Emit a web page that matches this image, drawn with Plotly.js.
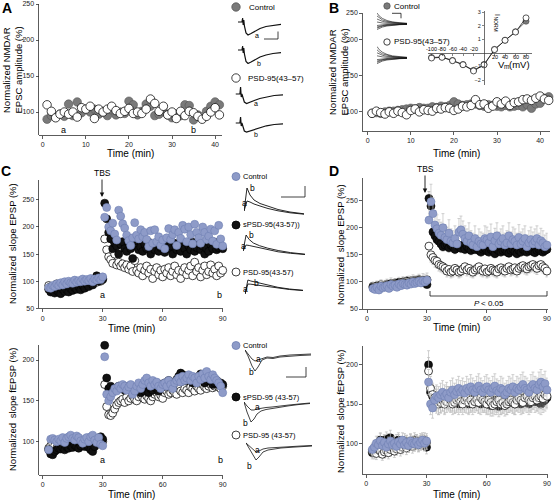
<!DOCTYPE html>
<html><head><meta charset="utf-8">
<script src="https://cdn.plot.ly/plotly-3.0.1.min.js"></script>
<style>html,body{margin:0;padding:0;background:#fff}#chart{width:554px;height:500px}</style>
</head><body><div id="chart"></div>
<script>
// ---------------- DATA ----------------
// Panel A (NMDAR EPSC amplitude, %)
const tA_ctrl = [1,2,3,4,5,6,7,8,9,10,11,12,13,14,15,16,17,18,19,20,21,22,23,24,25,26,27,28,29,30,31,32,33,34,35,36,37,38,39,40,41];
const A_ctrl  = [90,95,93,97,94,111,95,114,99,104,100,104,97,101,95,103,96,100,98,115,110,96,101,111,108,95,97,101,96,92,97,95,110,109,89,96,93,101,108,114,110];
const tA_psd  = [1,2,3,4,5,6,7,8,9,10,11,12,13,14,15,16,17,18,19,20,21,22,23,24,25,26,27,28,29,30,31,32,33,34,35,36,37,38,39,40,41,42];
const A_psd   = [110,101,92,97,100,97,100,93,106,104,108,91,104,100,104,108,102,98,101,105,98,100,98,104,118,112,101,108,96,100,91,101,95,101,99,94,90,94,100,106,96,97];
// Panel B
const tB      = [1,2,3,4,5,6,7,8,9,10,11,12,13,14,15,16,17,18,19,20,21,22,23,24,25,26,27,28,29,30,31,32,33,34,35,36,37,38,39,40,41,42];
const B_ctrl  = [97,98,97,99,100,100,101,102,103,104,103,105,104,104,106,105,107,106,108,113,110,108,109,110,110,108,107,109,108,107,106,108,106,107,108,106,109,104,110,111,118,120];
const B_psd   = [97,100,98,96,99,97,100,98,95,101,103,99,102,101,100,104,103,105,104,101,103,107,106,108,116,109,110,104,107,113,110,114,108,112,113,116,117,115,118,121,117,115];
// IV inset (panel B)
const ivV     = [-100,-80,-60,-40,-20,0,20,40,60,80];
const ivCtrl  = [-0.33,-0.3,-0.55,-0.85,-1.28,-0.85,0.27,0.95,1.58,2.35];
const ivPsd   = [-0.37,-0.32,-0.57,-0.87,-1.33,-0.88,0.25,0.94,1.55,2.6];
const ivTickNeg = [-100,-80,-60,-40,-20];
const ivTickPos = [20,40,60,80];
// Panels C/D time base
const tBase = [3,4,5,6,7,8,9,10,11,12,13,14,15,16,17,18,19,20,21,22,23,24,25,26,27,28,29,30];
const tPost = [31,32,33,34,35,36,37,38,39,40,41,42,43,44,45,46,47,48,49,50,51,52,53,54,55,56,57,58,59,60,61,62,63,64,65,66,67,68,69,70,71,72,73,74,75,76,77,78,79,80,81,82,83,84,85,86,87,88,89,90];
// Panel C top (slope EPSP, single experiments)
const Ct_ctrl_base = [88,87,92,90,95,92,97,93,99,95,100,97,96,102,98,101,99,104,100,103,101,105,99,104,102,106,103,108];
const Ct_ctrl_post = [218,236,200,193,207,187,176,231,220,206,198,185,175,166,180,208,185,178,195,182,190,177,164,193,170,195,173,182,166,176,160,180,197,177,186,195,166,190,179,203,196,173,200,186,169,205,190,180,170,200,190,177,183,196,174,193,168,203,178,165];
const Ct_spsd_base = [85,80,82,78,83,80,77,85,81,84,80,86,83,88,85,90,84,92,87,95,90,98,93,104,110,100,105,103];
const Ct_spsd_post = [244,215,190,178,160,170,165,150,168,173,160,155,170,160,142,165,175,158,163,155,168,160,172,150,165,158,170,155,162,168,153,175,160,165,150,170,158,163,155,168,160,150,165,158,172,155,162,170,158,165,150,160,155,168,160,172,158,162,165,160];
const Ct_psd_base  = [92,90,85,88,95,90,93,86,92,95,90,88,97,92,95,90,98,94,96,99,93,100,97,102,98,104,100,105];
const Ct_psd_post  = [178,158,145,140,133,150,130,135,128,132,125,130,122,128,118,138,120,115,125,110,120,128,115,122,105,118,125,112,120,108,122,115,125,110,118,128,112,120,105,118,125,112,120,128,110,135,118,125,108,120,128,112,118,130,115,122,110,128,115,120];
// Panel D top (mean slope EPSP)
const Dt_ctrl_base = [88,86,90,85,92,89,91,93,88,95,92,94,90,96,93,97,95,94,98,96,100,97,99,101,98,102,100,103];
const Dt_ctrl_post = [214,248,226,205,198,190,186,200,182,178,190,175,172,180,170,192,196,188,180,175,185,172,168,180,165,175,170,168,180,178,172,183,165,176,185,170,175,180,168,172,185,170,178,175,168,182,170,175,180,165,172,178,170,175,180,168,176,172,165,168];
const Dt_spsd_base = [90,88,92,87,90,93,91,95,92,96,94,98,95,99,97,100,98,101,99,102,100,103,101,104,100,103,98,95];
const Dt_spsd_post = [254,240,192,185,178,175,170,165,168,170,163,168,165,160,170,165,162,168,160,165,162,158,165,160,163,158,155,160,162,157,155,160,158,152,160,157,155,158,160,155,153,158,160,156,152,158,155,160,157,155,158,160,156,154,158,160,157,155,158,160];
const Dt_psd_base  = [92,90,93,88,95,92,94,96,91,97,95,98,93,99,97,100,98,102,99,101,100,103,102,104,101,103,100,104];
const Dt_psd_post  = [166,150,145,140,138,132,130,128,125,120,123,118,120,125,122,118,120,124,128,122,125,120,118,122,125,128,122,120,124,118,120,125,122,120,118,124,126,122,120,125,128,122,124,126,120,125,128,130,126,124,128,130,132,128,125,130,132,128,125,120];
// Panel C bottom (slope fEPSP, single experiments)
const Cb_ctrl_base = [90,103,104,102,100,103,101,105,99,104,106,108,104,102,107,105,101,98,103,105,100,106,108,102,99,105,97,95];
const Cb_ctrl_post = [204,158,150,155,160,165,162,168,165,170,168,163,167,170,158,162,168,172,165,170,175,178,172,168,175,170,173,168,165,170,172,168,175,170,165,172,175,178,173,180,175,178,182,175,180,178,172,180,176,183,178,186,180,176,182,178,175,172,168,160];
const Cb_spsd_base = [90,85,84,88,90,92,91,93,90,94,92,95,93,96,94,92,95,97,94,96,93,90,88,94,100,104,106,103];
const Cb_spsd_post = [218,178,165,168,165,163,166,168,165,167,163,166,168,165,160,163,165,162,160,164,162,166,160,165,163,168,165,162,170,167,172,168,175,170,166,172,176,180,184,182,178,175,180,176,172,178,175,180,183,176,172,175,178,174,170,172,175,170,172,170];
const Cb_psd_base  = [92,95,98,95,92,97,95,98,100,96,98,95,97,99,94,96,98,95,99,97,100,96,98,101,97,99,102,100];
const Cb_psd_post  = [170,143,133,132,135,140,145,148,150,152,148,155,150,153,156,152,150,155,158,154,152,156,153,150,155,158,160,155,157,153,160,162,158,160,163,160,158,165,162,160,165,163,160,167,165,162,168,165,163,170,167,165,168,170,166,168,170,167,165,168];
// Panel D bottom (mean slope fEPSP)
const Db_ctrl_base = [92,95,100,98,103,97,101,95,99,103,98,100,96,102,99,104,98,101,97,103,100,99,102,98,101,104,100,103];
const Db_ctrl_post = [178,150,145,155,160,158,162,165,160,163,158,165,168,162,166,170,165,168,164,170,167,172,168,165,170,173,168,165,170,172,168,165,170,173,167,165,170,168,162,165,170,168,172,165,170,168,172,175,170,168,165,172,175,170,168,175,178,172,176,168];
const Db_spsd_base = [88,94,96,100,104,99,102,105,103,107,100,98,102,104,100,98,103,101,99,102,100,104,102,100,103,101,104,95];
const Db_spsd_post = [200,165,160,155,152,150,153,155,152,158,155,153,155,152,153,150,155,157,153,152,150,153,155,158,155,152,150,153,155,152,150,148,152,155,150,147,150,152,155,150,153,155,152,150,155,153,150,152,155,153,150,155,157,153,155,152,150,153,155,158];
const Db_psd_base  = [90,88,87,92,90,86,89,91,88,92,95,90,93,96,92,95,98,94,97,100,96,99,101,98,100,102,99,101];
const Db_psd_post  = [192,170,162,158,155,150,152,155,150,153,158,155,150,152,155,157,153,150,155,158,152,155,150,153,156,152,158,155,153,150,155,152,148,150,153,155,150,152,148,150,153,155,152,150,155,158,155,152,158,160,155,153,158,160,155,158,160,157,162,160];
// Inset waveforms, panel A (NMDAR EPSCs)
const wT      = [0,4,4.6,5.2,5.8,6.4,8,10,13,17,22,28,35,43];
const wA_ctrl_a = [0,0,4,-3,2,-4,-11,-13,-11.5,-9,-6.5,-4.5,-3.2,-2.4];
const wA_ctrl_b = [0,0,4,-3,2,-4,-11.5,-13.5,-12,-9.5,-7,-5,-3.5,-2.6];
const wA_psd_a  = [0,0,7,-3,0,-2,-8,-9.5,-8.5,-6.5,-4.5,-3,-1.5,-0.8];
const wA_psd_b  = [0,0,6,-3,0,-2,-8,-9,-8,-6,-4.3,-2.8,-1.5,-0.8];
// Inset current families, panel B
const famT = [0,2,5,9,14,20,27];
const famCtrl = [
  [11,8,5.5,3.5,2,1.2,0.7],[8,6,4,2.6,1.5,0.9,0.5],[5,3.8,2.6,1.7,1,0.6,0.3],[2,1.5,1,0.7,0.4,0.25,0.1],
  [-1.5,-1.1,-0.8,-0.5,-0.3,-0.2,-0.1],[-3,-2.3,-1.6,-1,-0.6,-0.35,-0.2],[-4,-3,-2.1,-1.4,-0.8,-0.5,-0.3],[-5.5,-4.2,-3,-2,-1.2,-0.7,-0.4]];
const famPsd = [
  [11.5,8.3,5.7,3.6,2.1,1.2,0.7],[8.2,6.1,4.1,2.6,1.5,0.9,0.5],[5.2,3.9,2.7,1.7,1,0.6,0.3],[2.2,1.6,1.1,0.7,0.4,0.25,0.1],
  [-1.6,-1.2,-0.8,-0.5,-0.3,-0.2,-0.1],[-3.1,-2.4,-1.6,-1,-0.6,-0.35,-0.2],[-4.2,-3.1,-2.2,-1.4,-0.8,-0.5,-0.3],[-5.6,-4.3,-3,-2,-1.2,-0.7,-0.4]];
// Inset EPSPs, panel C top
const eT = [0,3,6,10,16,24,34,46,60];
const eC_ctrl_a = [4,14,13,11,9,6.5,4.2,2.2,0.8];
const eC_ctrl_b = [4,27,20,15,11.5,8.5,5.5,3,1.2];
const eC_spsd_a = [4,10,9.5,8.5,7,5,3.2,1.7,0.5];
const eC_spsd_b = [4,20,15.5,12,9.3,6.8,4.5,2.4,0.8];
const eC_psd_a  = [-3,7,6.8,6.3,5.5,4.2,2.8,1.5,0.5];
const eC_psd_b  = [-3,11,10,9,7.5,5.6,3.7,2,0.7];
// Inset fEPSPs, panel C bottom
const fT = [0,3,7,10,13,17,22,28,35,45,55,66];
const fC_ctrl_a = [0,-4,-9,-11,-10,-8,-7,-7.5,-6,-5,-4.5,-4];
const fC_ctrl_b = [0,-6,-16,-21,-17,-10,-8,-8.5,-7,-6,-5.5,-5];
const fC_spsd_a = [0,-4,-8,-8,-7,-6,-5.5,-5,-4,-3,-2,-1];
const fC_spsd_b = [0,-10,-20,-17,-12,-9,-7.5,-6.5,-5,-3.8,-2.5,-1.5];
const fC_psd_a  = [0,-3,-7,-9,-8,-6,-5,-4.5,-4,-3.5,-3,-2.5];
const fC_psd_b  = [0,-5,-12,-17,-14,-9,-7,-6,-5,-4.3,-3.7,-3];

// ---------------- LAYOUT HELPERS ----------------
const W=554, H=500;
const PX = x => x/W, PY = y => 1 - y/H;
const FONT = 'Liberation Sans, Arial, Helvetica, sans-serif';
const BLUE = '#8e9bc8', BLUE_LINE = '#6f7fb2', GREY = '#7a7a7a';
const tCD = tBase.concat(tPost);

const layout = {width:W, height:H, margin:{l:0,r:0,t:0,b:0}, paper_bgcolor:'#fff', plot_bgcolor:'rgba(0,0,0,0)',
  showlegend:false, font:{family:FONT, size:8, color:'#222'}, annotations:[], shapes:[], hovermode:false};
const AX = {showline:true, linecolor:'#333', linewidth:0.8, ticks:'outside', ticklen:3, tickwidth:0.8, tickcolor:'#333',
  showgrid:false, zeroline:false, tickfont:{size:7, color:'#222', family:FONT}, fixedrange:true};
const sfx = id => id===1 ? '' : String(id);

function addMain(id, xd, xr, xt, yd, yr, yt, ytt){
  const s = sfx(id);
  layout['xaxis'+s] = Object.assign({}, AX, {domain:[PX(xd[0]),PX(xd[1])], range:xr, tickvals:xt, anchor:'y'+s});
  const ya = Object.assign({}, AX, {domain:[PY(yd[1]),PY(yd[0])], range:yr, tickvals:yt, anchor:'x'+s});
  if (ytt) ya.ticktext = ytt;
  layout['yaxis'+s] = ya;
}
function addInset(id, xd, xr, yd, yr){
  const s = sfx(id);
  layout['xaxis'+s] = {domain:[PX(xd[0]),PX(xd[1])], range:xr, visible:false, anchor:'y'+s, fixedrange:true};
  layout['yaxis'+s] = {domain:[PY(yd[1]),PY(yd[0])], range:yr, visible:false, anchor:'x'+s, fixedrange:true};
}
const traces = [];
function pts(id, x, y, marker, extra){
  const s = sfx(id);
  traces.push(Object.assign({type:'scatter', mode:'markers', x:x, y:y, xaxis:'x'+s, yaxis:'y'+s, marker:marker, cliponaxis:false, hoverinfo:'skip'}, extra||{}));
}
function wave(id, x, y, w, color){
  const s = sfx(id);
  traces.push({type:'scatter', mode:'lines', x:x, y:y, xaxis:'x'+s, yaxis:'y'+s, line:{color:color||'#111', width:w||1}, cliponaxis:false, hoverinfo:'skip'});
}
function ann(x, y, text, size, opts){
  layout.annotations.push(Object.assign({xref:'paper', yref:'paper', x:PX(x), y:PY(y), text:text, showarrow:false,
    font:{size:size, family:FONT, color:'#000'}, xanchor:'center', yanchor:'middle'}, opts||{}));
}
function circ(cx, cy, r, fill, lc){
  layout.shapes.push({type:'circle', xref:'paper', yref:'paper', x0:PX(cx-r), x1:PX(cx+r), y0:PY(cy+r), y1:PY(cy-r),
    fillcolor:fill, line:{color:lc||'#111', width:0.8}});
}
function seg(x0, y0, x1, y1, w){
  layout.shapes.push({type:'line', xref:'paper', yref:'paper', x0:PX(x0), y0:PY(y0), x1:PX(x1), y1:PY(y1), line:{color:'#111', width:w||1}});
}

// Marker styles
const mGrey = {size:8.5, color:GREY, line:{color:'#555', width:0.6}};
const mOpen = {size:8.5, color:'#fff', line:{color:'#111', width:0.8}};
const mBlue = {size:8, color:BLUE, line:{color:BLUE_LINE, width:0.6}};
const mBlack= {size:8, color:'#111', line:{color:'#000', width:0.6}};
const mOpen8= {size:8, color:'#fff', line:{color:'#111', width:0.8}};

// ---------------- MAIN AXES ----------------
addMain(1, [39.3,222], [-0.8,41.6], [0,10,20,30,40], [4,134.7], [68.5,250], [100,150,200,250]);
addMain(2, [363,550], [-1.1,42.3], [0,10,20,30,40], [13,131], [72.4,236.6], [100,150,200,236.6], ['100','150','200','250']);
addMain(3, [39.3,223.3], [-1.7,90.3], [0,30,60,90], [180,308.3], [50,286.7], [50,100,150,200,250]);
addMain(4, [363,547.7], [-2,90.4], [0,30,60,90], [178,309], [50,291.7], [50,100,150,200,250]);
addMain(5, [39.3,223.3], [-1.7,90.3], [0,30,60,90], [345,475], [59.2,218.4], [100,150,200]);
addMain(6, [363,547.7], [-1.64,90.35], [0,30,60,90], [346,474], [60.8,224], [100,150,200]);

// Panel A
pts(1, tA_ctrl, A_ctrl, mGrey);
pts(1, tA_psd, A_psd, mOpen);
// Panel B
const ebB = {type:'percent', value:3, color:'#444', thickness:0.6, width:0};
pts(2, tB, B_ctrl, mGrey, {error_y:ebB});
pts(2, tB, B_psd, mOpen, {error_y:ebB});
// Panel C top
pts(3, tCD, Ct_psd_base.concat(Ct_psd_post), mOpen8);
pts(3, tCD, Ct_spsd_base.concat(Ct_spsd_post), mBlack);
pts(3, tCD, Ct_ctrl_base.concat(Ct_ctrl_post), mBlue);
// Panel D top (means with error bars)
pts(4, tCD, Dt_psd_base.concat(Dt_psd_post), mOpen8, {error_y:{type:'percent', symmetric:false, value:0, valueminus:9, color:'#b8b8b8', thickness:0.7, width:1.5}});
pts(4, tCD, Dt_spsd_base.concat(Dt_spsd_post), mBlack, {error_y:{type:'percent', value:5, color:'#aaaaaa', thickness:0.7, width:1.5}});
pts(4, tCD, Dt_ctrl_base.concat(Dt_ctrl_post), mBlue, {error_y:{type:'percent', symmetric:false, value:13, valueminus:0, color:'#bdbdbd', thickness:0.7, width:1.5}});
// Panel C bottom
pts(5, tCD, Cb_psd_base.concat(Cb_psd_post), mOpen8);
pts(5, tCD, Cb_spsd_base.concat(Cb_spsd_post), mBlack);
pts(5, tCD, Cb_ctrl_base.concat(Cb_ctrl_post), mBlue);
// Panel D bottom
const ebD = {type:'percent', value:9, color:'#bdbdbd', thickness:0.7, width:1.5};
pts(6, tCD, Db_spsd_base.concat(Db_spsd_post), mBlack, {error_y:ebD});
pts(6, tCD, Db_psd_base.concat(Db_psd_post), mOpen8, {error_y:ebD});
pts(6, tCD, Db_ctrl_base.concat(Db_ctrl_post), mBlue, {error_y:ebD});

// ---------------- INSETS ----------------
// A: EPSC traces
addInset(7, [238,281], [0,43], [17,36], [-14,5]);   wave(7, wT, wA_ctrl_a, 1.2);
addInset(8, [238,281], [0,43], [45,64], [-14,5]);   wave(8, wT, wA_ctrl_b, 1.2);
addInset(9, [235.5,283], [0,43], [86,105], [-11,8]); wave(9, wT, wA_psd_a, 1.2);
addInset(10,[235.5,283], [0,43], [115,134], [-11,8]); wave(10, wT, wA_psd_b, 1.2);
// B: current families
addInset(11, [377,407], [0,27], [12,30], [-6,12]);
famCtrl.forEach(r => wave(11, famT, r, 0.6));
addInset(12, [377,407], [0,27], [46,64], [-6,12]);
famPsd.forEach(r => wave(12, famT, r, 0.6));
// B: IV curve
layout.xaxis13 = {domain:[PX(428),PX(532)], range:[-106.7,91.4], anchor:'free', position:PY(53), showline:true, linecolor:'#333', linewidth:0.7,
  ticks:'outside', ticklen:2, tickwidth:0.6, tickcolor:'#333', tickvals:ivTickNeg.concat(ivTickPos), showticklabels:false,
  showgrid:false, zeroline:false, fixedrange:true};
layout.yaxis13 = {domain:[PY(85),PY(11)], range:[-2.37,3.11], anchor:'free', position:PX(484), showline:true, linecolor:'#333', linewidth:0.7,
  ticks:'outside', ticklen:2, tickwidth:0.6, tickcolor:'#333', tickvals:[-2,-1,1,2,3], tickfont:{size:5.5, family:FONT, color:'#222'},
  showgrid:false, zeroline:false, fixedrange:true};
const ebIV = {type:'constant', value:0.15, color:'#444', thickness:0.6, width:0};
pts(13, ivV, ivCtrl, {size:6, color:GREY, line:{color:'#444', width:0.6}}, {mode:'lines+markers', line:{color:'#444', width:0.8}, error_y:ebIV});
pts(13, ivV, ivPsd, {size:6, color:'#fff', line:{color:'#111', width:0.7}}, {mode:'lines+markers', line:{color:'#111', width:0.8}, error_y:ebIV});
// C top: EPSP traces
addInset(14, [244,308], [0,64], [186,216], [-1,29]); wave(14, eT, eC_ctrl_a, 0.9); wave(14, eT, eC_ctrl_b, 0.9);
addInset(15, [243,305], [0,60], [226,256], [-1,29]); wave(15, eT, eC_spsd_a, 0.9); wave(15, eT, eC_spsd_b, 0.9);
addInset(16, [245,303], [0,60], [265,295], [-4,26]); wave(16, eT, eC_psd_a, 0.9); wave(16, eT, eC_psd_b, 0.9);
// C bottom: fEPSP traces
addInset(17, [245,311], [0,66], [348,374], [-24,2]); wave(17, fT, fC_ctrl_a, 0.8); wave(17, fT, fC_ctrl_b, 0.8);
addInset(18, [244,310], [0,66], [400,426], [-24,2]); wave(18, fT, fC_spsd_a, 0.8); wave(18, fT, fC_spsd_b, 0.8);
addInset(19, [246,312], [0,66], [441,467], [-24,2]); wave(19, fT, fC_psd_a, 0.8); wave(19, fT, fC_psd_b, 0.8);

// ---------------- TEXT ----------------
// Panel letters
const LET = {font:{size:14, family:FONT, color:'#000', weight:'bold'}};
ann(7, 8, 'A', 14, LET); ann(334, 8, 'B', 14, LET); ann(6, 171, 'C', 14, LET); ann(334, 171, 'D', 14, LET);
// Axis titles
ann(130, 153.5, 'Time (min)', 10); ann(456, 153, 'Time (min)', 10);
ann(131, 328, 'Time (min)', 10); ann(456, 327.5, 'Time (min)', 10);
ann(131, 494, 'Time (min)', 10); ann(456, 494, 'Time (min)', 10);
ann(6, 70, 'Normalized NMDAR', 9.5, {textangle:-90});
ann(17.5, 70, 'EPSC amplitude (%)', 9.5, {textangle:-90});
ann(332, 72, 'Normalized NMDAR', 9.5, {textangle:-90});
ann(343.5, 72, 'EPSC amplitude (%)', 9.5, {textangle:-90});
ann(12, 244, 'Normalized\u2002slope EPSP (%)', 9.5, {textangle:-90});
ann(340, 245, 'Normalized\u2002slope EPSP (%)', 9.5, {textangle:-90});
ann(12, 410, 'Normalized\u2002slope fEPSP (%)', 9.5, {textangle:-90});
ann(340, 412, 'Normalized\u2002slope fEPSP (%)', 9.5, {textangle:-90});
// a / b time markers
ann(63, 130, 'a', 9); ann(193, 130, 'b', 9);
ann(102, 295, 'a', 9); ann(219, 295, 'b', 9);
ann(102, 460, 'a', 9); ann(220, 460, 'b', 9);
// TBS arrows
layout.annotations.push({xref:'paper', yref:'paper', x:PX(102), y:PY(197), text:'TBS', showarrow:true, ax:0, ay:-24,
  arrowhead:2, arrowsize:1, arrowwidth:0.9, arrowcolor:'#111', font:{size:8.5, family:FONT, color:'#000'}});
layout.annotations.push({xref:'paper', yref:'paper', x:PX(425), y:PY(193), text:'TBS', showarrow:true, ax:0, ay:-24,
  arrowhead:2, arrowsize:1, arrowwidth:0.9, arrowcolor:'#111', font:{size:8.5, family:FONT, color:'#000'}});
// P < 0.05 bracket
seg(430, 296, 547, 296, 0.8); seg(430, 291, 430, 296, 0.8); seg(547, 291, 547, 296, 0.8);
ann(472, 303, 'P', 8, {xanchor:'left', font:{size:8, family:FONT, color:'#000', style:'italic'}});
ann(478.5, 303, '&lt; 0.05', 8, {xanchor:'left'});

// Legends
const LF = 8;
circ(236, 7, 4.2, GREY, '#555');   ann(247, 7, 'Control', LF, {xanchor:'left'});
circ(236, 78, 4.2, '#fff', '#111'); ann(246, 78, 'PSD-95(43–57)', LF, {xanchor:'left'});
circ(387, 6, 3.2, GREY, '#555');   ann(392, 6, 'Control', LF, {xanchor:'left'});
circ(387, 42, 3.2, '#fff', '#111'); ann(392, 42, 'PSD-95(43–57)', LF, {xanchor:'left'});
circ(236, 176.5, 4, BLUE, BLUE_LINE); ann(241, 176.5, 'Control', 7.5, {xanchor:'left'});
circ(236, 225, 4, '#111', '#000');    ann(241, 225, 'sPSD-95(43-57))', 7.5, {xanchor:'left'});
circ(236, 272, 4, '#fff', '#111');    ann(241, 272, 'PSD-95(43-57)', 7.5, {xanchor:'left'});
circ(236, 345.5, 4, BLUE, BLUE_LINE); ann(241, 345.5, 'Control', 7.5, {xanchor:'left'});
circ(236, 397, 4, '#111', '#000');    ann(241, 397, 'sPSD-95 (43-57)', 7.5, {xanchor:'left'});
circ(236, 435, 4, '#fff', '#111');    ann(241, 435, 'PSD-95 (43-57)', 7.5, {xanchor:'left'});
// inset a/b labels
ann(257, 35, 'a', 7); ann(259, 63, 'b', 7); ann(256, 104, 'a', 7); ann(256, 134, 'b', 7);
ann(252, 188, 'b', 8.5); ann(244, 203, 'a', 8.5);
ann(251, 235, 'b', 8.5); ann(243, 246, 'a', 8.5);
ann(256, 283, 'b', 8.5); ann(245, 289, 'a', 8.5);
ann(258, 359, 'a', 8.5); ann(251, 372, 'b', 8.5);
ann(257, 407, 'a', 8.5); ann(245, 423, 'b', 8.5);
ann(257, 450, 'a', 8.5); ann(250, 466, 'b', 8.5);
// IV tick labels (negative above the axis, positive below)
const ivNegPx = [431.5,442,452.5,463,473.5], ivPosPx = [494.5,505,515.5,526];
ivTickNeg.forEach((v,i) => ann(ivNegPx[i], 49.5, String(v), 5.5));
ivTickPos.forEach((v,i) => ann(ivPosPx[i], 57, String(v), 5.5));
// I_NORM (rotated, subscript drawn as a smaller separate text)
ann(497.5, 14.5, 'I', 7, {textangle:90});
ann(496, 23.5, 'NORM', 5, {textangle:90});
// Vm(mV)
ann(495.5, 64, 'V', 9.5, {xanchor:'left'});
ann(501.8, 66.5, 'm', 6.5, {xanchor:'left'});
ann(507, 64, '(mV)', 9.5, {xanchor:'left'});
// Scale bars
seg(264, 39, 278, 39, 0.8); seg(278, 31.5, 278, 39, 0.8);
seg(392, 13.3, 401, 13.3, 0.8); seg(401, 13.3, 401, 18.3, 0.8);
seg(281, 197, 305, 197, 0.8); seg(305, 186, 305, 197, 0.8);
seg(286, 377, 306, 377, 0.8); seg(306, 367, 306, 377, 0.8);

Plotly.newPlot('chart', traces, layout, {displayModeBar:false, staticPlot:true});
</script></body></html>
